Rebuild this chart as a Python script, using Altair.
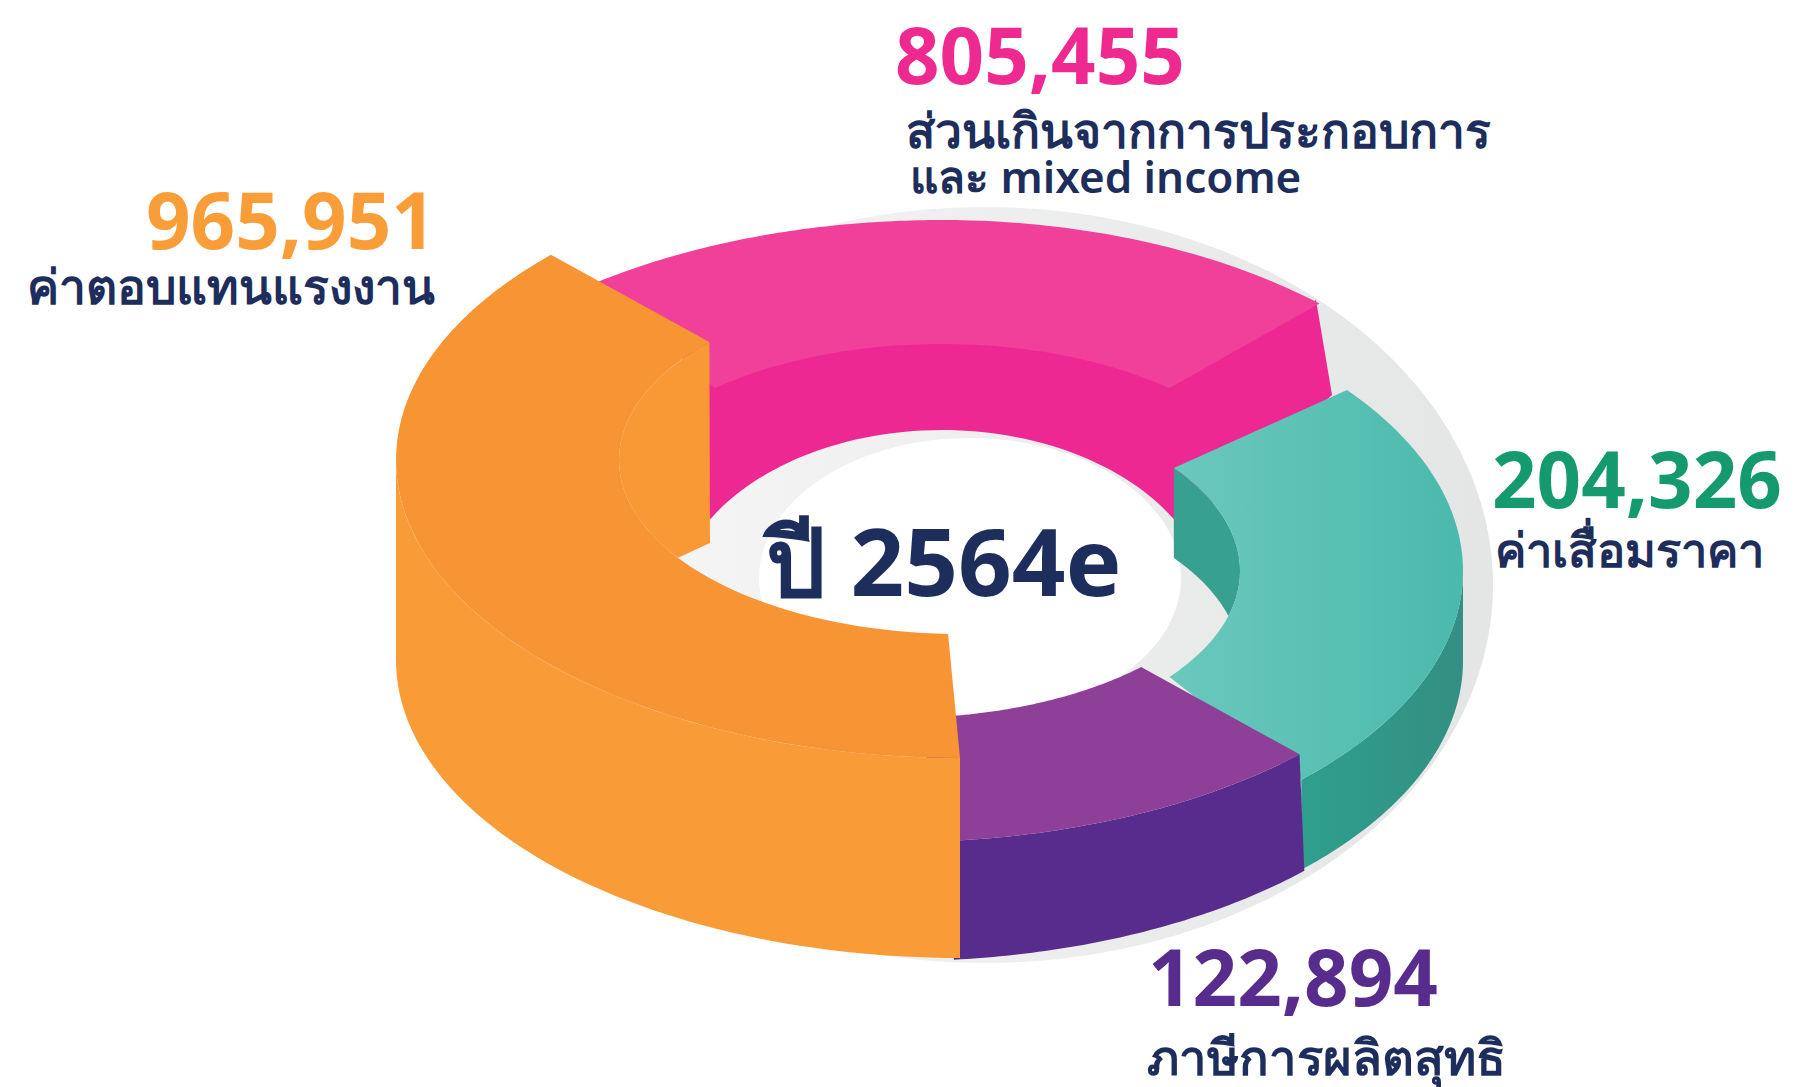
import math
import altair as alt

# Values and labels as printed on the chart
segments = ["orange", "pink", "teal", "purple"]
values = [965951, 805455, 204326, 122894]
captions = [["ค่าตอบแทนแรงงาน"], ["ส่วนเกินจากการประกอบการ", "และ mixed income"], ["ค่าเสื่อมราคา"], ["ภาษีการผลิตสุทธิ"]]
value_colors = ["#F99D38", "#EE2A90", "#149A6E", "#582C8C"]
center_label = "ปี 2564e"
NAVY = "#1D2D5C"
NUM_FONT = "Noto Sans"
CAP_FONT = "Noto Sans"

# left anchors, baselines and sizes (page px)
value_pos = [(146, 249, 78), (895, 84, 78), (1492, 508, 78), (1148, 1006, 78)]
caption_pos = [[(27, 304, 48)], [(906, 148, 48), (910, 193, 44)], [(1495, 567, 47)], [(1147, 1075, 49)]]

# ring geometry
A, B = 564, 298        # outer ellipse
IA, IB = 341, 174      # inner ellipse


def arc(cx, cy, a, b, t0, t1, dy=0, n=60):
    out = []
    for i in range(n + 1):
        t = math.radians(t0 + (t1 - t0) * i / n)
        out.append([cx + a * math.cos(t), cy + dy + b * math.sin(t)])
    return out


def shape(*rings):
    closed = [r + [r[0]] for r in rings]
    return alt.InlineData(values=[{"type": "Feature", "properties": {},
                                   "geometry": {"type": "Polygon", "coordinates": closed}}])


def piece(fill, *rings):
    return alt.Chart(shape(*rings)).mark_geoshape(fill=fill, strokeWidth=0, stroke="transparent").project(
        type="identity", scale=1, translate=[-8, -8])


def hgrad(c0, c1):
    return alt.LinearGradient(gradient="linear", x1=0, x2=1, y1=0, y2=0,
                              stops=[alt.GradientStop(color=c0, offset=0), alt.GradientStop(color=c1, offset=1)])


layers = []
# shadow disc with its hole
layers.append(piece(hgrad("#F8F8F8", "#E4E5E5"), arc(985, 585, 508, 378, 0, 360, n=180), arc(970, 578, 211, 140, 360, 0, n=120)))

# pink: the right end of the outer edge sags a little below the true ellipse
pc = (942, 518)
pink_right = arc(*pc, A, B, 270, 312, n=30)
pink_right = [[x, y + 7 * (i / 30) ** 2] for i, (x, y) in enumerate(pink_right)]
layers.append(piece("#EE2892",
                    [[690, 350]] + arc(*pc, IA, IB, 228.2, 311.8, dy=-4) + [[1316, 300], [1332, 395], [1180, 532]] + arc(942, 613, 270, 183, 330.7, 209)))
layers.append(piece("#F04099", arc(*pc, A, B, 232.5, 270) + pink_right + arc(*pc, IA, IB, 311.8, 228.2)))

# teal
tc = (899, 571)
layers.append(piece(hgrad("#2F9F8D", "#338F82"), arc(*tc, A, B, 0, 44.5) + arc(*tc, A, B, 44.5, 0, dy=90)))
layers.append(piece("#37A091", arc(*tc, IA, IB, -36.3, 14.8) + arc(*tc, IA, IB, -14.8, -36.3, dy=90)))
layers.append(piece(hgrad("#6BC8BD", "#4BB9AD"), arc(*tc, A, B, -37.4, 44.5) + arc(*tc, IA, IB, 37.5, -36.3)))

# purple
uc = (900, 544)
layers.append(piece("#582C8C", arc(*uc, A, B, 88, 44.9) + arc(*uc, A, B, 44.2, 84.5, dy=119)))
layers.append(piece("#8E3F97", arc(*uc, A, B, 88, 44.9) + arc(*uc, IA, IB, 45, 85)))

# orange
oc = (960, 460)
layers.append(piece("#F99C38", arc(*oc, A, B, 180, 90) + arc(*oc, A, B, 90, 180, dy=200)))
layers.append(piece("#F79434", arc(*oc, A, B, 223.5, 90) + arc(*oc, IA, IB, 92, 222.7)))
layers.append(piece("#F89936", arc(*oc, IA, IB, 222.7, 145.8) + [[710, 543]]))

# text rows
x_scale = alt.Scale(domain=[8, 1799], range=[0, 1791])
y_scale = alt.Scale(domain=[8, 1087], range=[0, 1079])


def label(text, x, y, size, color, font, weight=600):
    return alt.Chart(alt.InlineData(values=[{"t": text, "x": x, "y": y}])).mark_text(
        font=font, fontSize=size, fontWeight=weight, color=color, align="left", baseline="alphabetic"
    ).encode(text="t:N", x=alt.X("x:Q", scale=x_scale, axis=None), y=alt.Y("y:Q", scale=y_scale, axis=None))


for v, c, (x, y, s), caps, cp in zip(values, value_colors, value_pos, captions, caption_pos):
    layers.append(label(f"{v:,}", x, y, s, c, NUM_FONT, 700))
    for t, (cx, cy, cs) in zip(caps, cp):
        layers.append(label(t, cx, cy, cs, NAVY, CAP_FONT, 600))
layers.append(label(center_label, 766, 596, 94, NAVY, NUM_FONT, 700))

chart = alt.layer(*layers).properties(
    width=1791, height=1079, padding=0, autosize=alt.AutoSizeParams(type="none")
).configure_view(stroke=None)

chart.save("out.html", embed_options={"renderer": "svg", "actions": False})
